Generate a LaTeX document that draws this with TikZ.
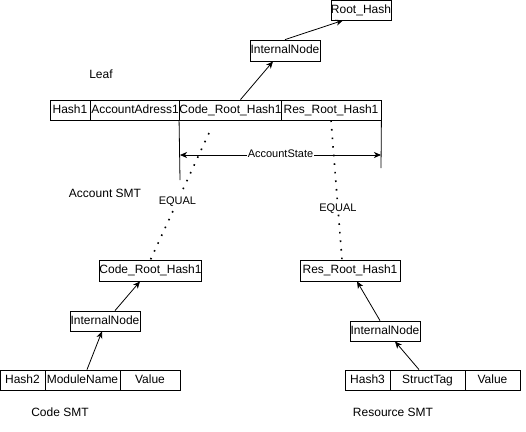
\documentclass[tikz,border=0pt]{standalone}
\usepackage{fontspec}
\setmainfont{Liberation Sans}
\usetikzlibrary{arrows.meta}
\begin{document}
\begin{tikzpicture}[x=1pt,y=-1pt,
  every node/.style={font=\fontsize{12}{14}\selectfont,text height=8.6pt,text depth=2.4pt},
  cell/.style={draw=black,line width=0.8pt,fill=white,inner sep=0pt,minimum height=20pt},
  lbl/.style={inner sep=0pt},
  elbl/.style={fill=white,inner sep=1pt,font=\fontsize{11}{13}\selectfont,text height=8pt,text depth=2.2pt},
  conn/.style={line width=0.8pt,-{Stealth[length=7pt,width=6pt,inset=2pt]}},
  eqline/.style={line width=1.6pt,dash pattern=on 1.6pt off 7pt},
  plain/.style={line width=0.8pt}]
\useasboundingbox (0,0) rectangle (526,431);
% top
\node[cell,minimum width=60pt] (root) at (361,10) {Root\_Hash};
\node[cell,minimum width=70pt,minimum height=21pt] (in1) at (285,50.5) {InternalNode};
% leaf row
\node[cell,minimum width=40pt] (h1) at (70,110) {Hash1};
\node[cell,minimum width=90pt] (aa1) at (135,110) {AccountAdress1};
\node[cell,minimum width=101pt] (crh) at (230.5,110) {Code\_Root\_Hash1};
\node[cell,minimum width=100pt] (rrh) at (331,110) {Res\_Root\_Hash1};
\node[lbl] (leaf) at (101,75) {Leaf};
\node[lbl] (acct) at (105,194) {Account SMT};
% account state
\coordinate (vl) at (180,180);
\coordinate (vr) at (381,168);
\draw[plain] (crh.south west) -- (vl);
\draw[plain] (rrh.south east) -- (vr);
\coordinate (asl) at (180,155);
\coordinate (asr) at (381,155);
\draw[plain,{Stealth[length=7pt,width=6pt,inset=2pt]}-{Stealth[length=7pt,width=6pt,inset=2pt]}] (asl) -- node[elbl,inner sep=0.5pt] (aslbl) {AccountState} (asr);
% code smt
\node[cell,minimum width=101pt,minimum height=21pt] (crh2) at (150.5,270.5) {Code\_Root\_Hash1};
\node[cell,minimum width=70pt] (in2) at (105,321) {InternalNode};
\node[cell,minimum width=45pt] (h2) at (22.5,380) {Hash2};
\node[cell,minimum width=75pt] (mn) at (82.5,380) {ModuleName};
\node[cell,minimum width=60pt] (v2) at (150,380) {Value};
\node[lbl] (csmt) at (60,413) {Code SMT};
% resource smt
\node[cell,minimum width=100pt,minimum height=21pt] (rrh2) at (350,270.5) {Res\_Root\_Hash1};
\node[cell,minimum width=70pt] (in3) at (385,331) {InternalNode};
\node[cell,minimum width=45pt] (h3) at (367.5,380) {Hash3};
\node[cell,minimum width=75pt] (st) at (427.5,380) {StructTag};
\node[cell,minimum width=55pt] (v3) at (492.5,380) {Value};
\node[lbl] (rsmt) at (393,413) {Resource SMT};
% arrows
\draw[conn] ([xshift=10pt]crh.north) -- ([xshift=-12pt]in1.south);
\draw[conn] (in1.north) -- ([xshift=-18pt]root.south);
\draw[conn] ([xshift=4.5pt]mn.north) -- ([xshift=-3pt]in2.south);
\draw[conn] ([xshift=10pt]in2.north) -- ([xshift=-10.5pt]crh2.south);
\draw[conn] ([xshift=-8.5pt]st.north) -- ([xshift=10pt]in3.south);
\draw[conn] ([xshift=-5pt]in3.north) -- ([xshift=7pt]rrh2.south);
% equal lines
\coordinate (eqtop) at (209,133);
\draw[eqline] (eqtop) -- node[pos=0.54,elbl] (eq1) {EQUAL} (crh2.north);
\draw[eqline] (rrh.south) -- node[pos=0.63,elbl] (eq2) {EQUAL} ([xshift=-8pt]rrh2.north);
\end{tikzpicture}
\end{document}
